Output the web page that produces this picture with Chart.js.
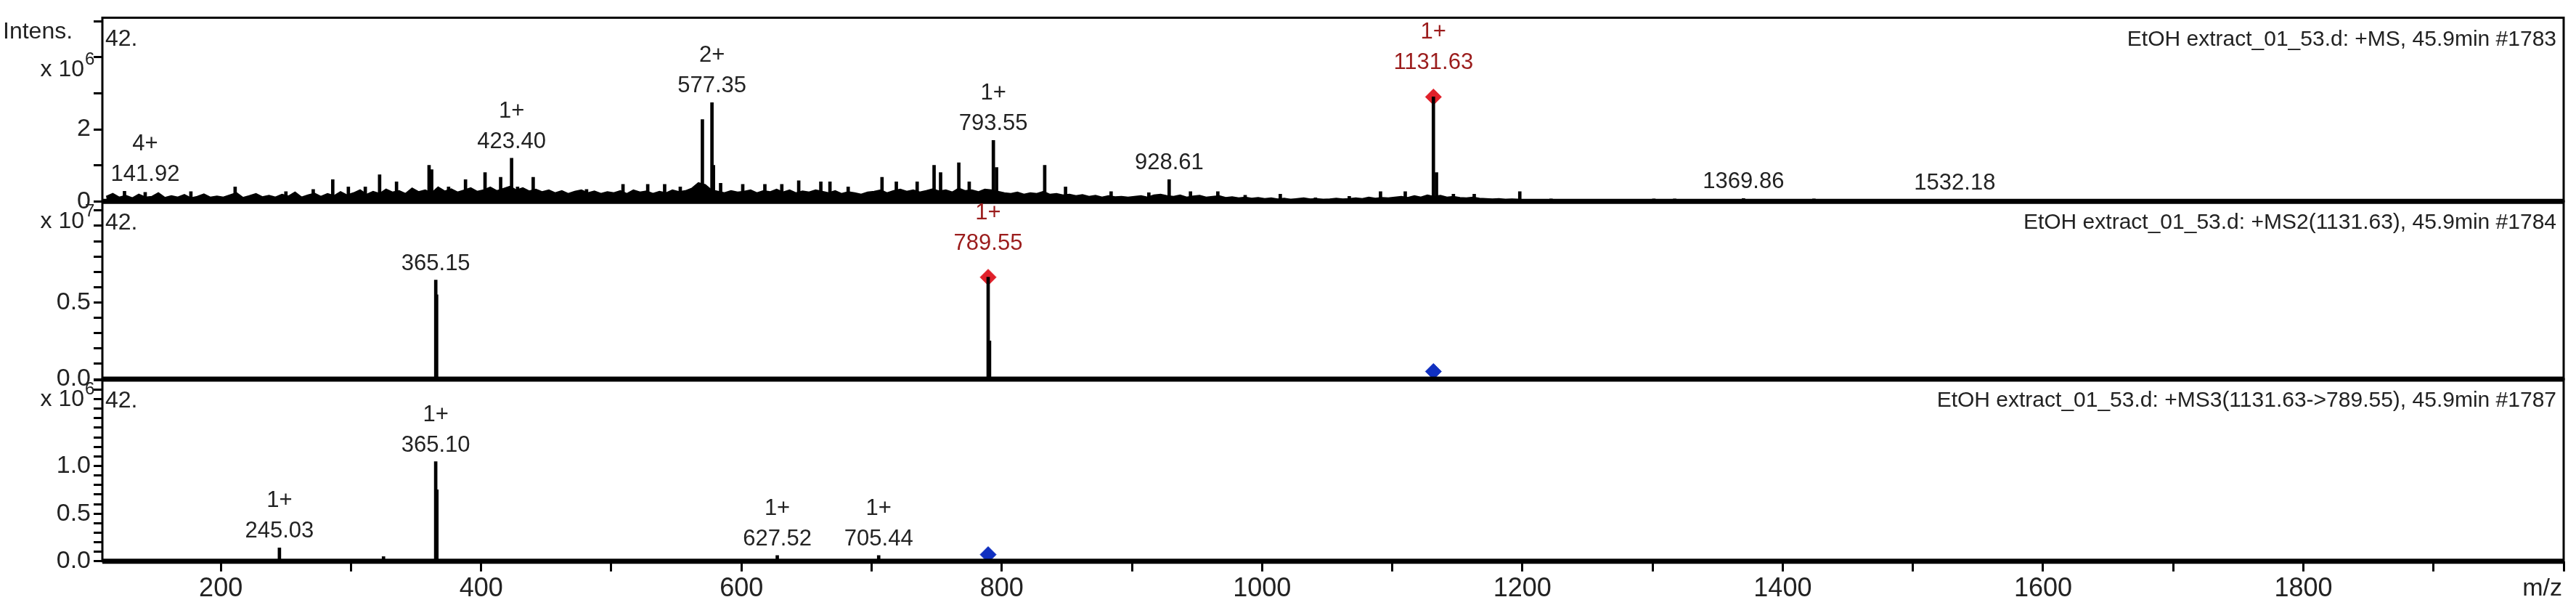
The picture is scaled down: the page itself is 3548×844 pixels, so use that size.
<!DOCTYPE html>
<html>
<head>
<meta charset="utf-8">
<script src="https://cdn.jsdelivr.net/npm/chart.js@4.4.1/dist/chart.umd.min.js"></script>
<style>
  html, body { margin: 0; padding: 0; background: #fff; }
  #wrap { position: relative; width: 3548px; height: 844px; }
</style>
</head>
<body>
<div id="wrap"><canvas id="msChart" width="3548" height="844"></canvas></div>
<script>
// ---- data (intensities in units of the panel exponent) ----
// panel 1: MS full scan, x 10^6
var ms1GrassStart = 112, ms1GrassStep = 5;
var ms1Grass = [
  0.12,0.2,0.1,0.15,0.08,0.18,0.1,0.12,0.22,0.09,0.14,0.1,0.17,0.08,0.12,0.19,0.1,0.13,
  0.1,0.16,0.22,0.09,0.14,0.2,0.11,0.15,0.1,0.18,0.13,0.24,0.1,0.16,0.21,0.12,0.2,0.14,0.25,0.16,
  0.22,0.3,0.18,0.26,0.2,0.32,0.24,0.28,0.2,0.35,0.25,0.3,0.22,0.38,0.27,0.33,0.24,0.3,0.36,0.26,
  0.3,0.38,0.28,0.34,0.4,0.3,0.36,0.27,0.32,0.25,0.3,0.22,0.28,0.2,0.26,0.3,0.22,0.27,0.2,0.25,
  0.22,0.28,0.2,0.3,0.24,0.27,0.2,0.26,0.22,0.3,0.25,0.28,0.35,0.5,0.45,0.3,0.26,0.22,0.28,0.24,
  0.26,0.3,0.22,0.28,0.25,0.32,0.24,0.3,0.22,0.27,0.24,0.3,0.26,0.22,0.28,0.2,0.25,0.22,0.18,0.24,
  0.26,0.3,0.22,0.28,0.32,0.26,0.3,0.24,0.28,0.33,0.27,0.3,0.24,0.35,0.28,0.3,0.25,0.32,0.3,0.26,
  0.22,0.2,0.24,0.18,0.22,0.2,0.26,0.18,0.2,0.16,0.18,0.14,0.17,0.12,0.15,0.1,0.14,0.11,0.12,0.1,
  0.12,0.14,0.1,0.16,0.18,0.14,0.12,0.16,0.1,0.13,0.15,0.1,0.12,0.14,0.09,0.11,0.08,0.1,0.07,0.09,
  0.06,0.08,0.05,0.07,0.04,0.06,0.08,0.05,0.06,0.04,0.05,0.07,0.05,0.06,0.08,0.06,0.1,0.07,0.09,0.08,
  0.1,0.12,0.09,0.14,0.1,0.16,0.12,0.15,0.1,0.12,0.09,0.08,0.1,0.07,0.06,0.05,0.06,0.04,0.05,0.04
];
var ms1PeakMz = [126,141.9,177,211,250,271,286,298,311,322,335,360,362,375,388,403,415,423.4,428,440,
  481,509,528,541,553,570,577.35,578.5,584,601,618,631,644,661,682,
  668,708,719,735,748,753,767,775,793.55,796,833,849,884,913,928.61,945,966,987,
  1014,1041,1067,1091,1110,1131.63,1134,1147,1163,1198,1222,1301,1317,1369.86,1424,1532.18];
var ms1PeakInt = [0.28,0.25,0.27,0.4,0.27,0.33,0.6,0.4,0.4,0.74,0.54,1.0,0.88,0.4,0.6,0.8,0.67,1.2,0.4,0.67,
  0.33,0.47,0.47,0.47,0.4,2.27,2.74,1.0,0.5,0.47,0.47,0.47,0.57,0.54,0.4,
  0.54,0.67,0.54,0.54,1.0,0.8,1.07,0.54,1.69,0.94,1.0,0.4,0.27,0.24,0.6,0.27,0.27,0.17,
  0.2,0.1,0.14,0.27,0.27,2.9,0.8,0.2,0.2,0.27,0.07,0.07,0.07,0.08,0.07,0.05];
// panel 2: MS2(1131.63), x 10^7
var ms2PeakMz = [365.15, 365.8, 789.55, 790.6];
var ms2PeakInt = [0.646, 0.55, 0.665, 0.25];
var ms2Precursor = [1131.63, 0.05];
// panel 3: MS3(1131.63->789.55), x 10^6
var ms3PeakMz = [245.03, 325, 365.10, 366.0, 627.52, 705.44];
var ms3PeakInt = [0.14, 0.05, 1.045, 0.75, 0.06, 0.06];
var ms3Precursor = [789.55, 0.07];

// annotations: [mz, intensity, charge, text, panel, red]
var peakLabels = [
  [141.92, 0.28, '4+', '141.92', 1, false],
  [423.40, 1.2, '1+', '423.40', 1, false],
  [577.35, 2.74, '2+', '577.35', 1, false],
  [793.55, 1.69, '1+', '793.55', 1, false],
  [928.61, 0.6, '', '928.61', 1, false],
  [1131.63, 2.9, '1+', '1131.63', 1, true],
  [1369.86, 0.08, '', '1369.86', 1, false],
  [1532.18, 0.05, '', '1532.18', 1, false],
  [365.15, 0.646, '', '365.15', 2, false],
  [789.55, 0.665, '1+', '789.55', 2, true],
  [245.03, 0.14, '1+', '245.03', 3, false],
  [365.10, 1.045, '1+', '365.10', 3, false],
  [627.52, 0.06, '1+', '627.52', 3, false],
  [705.44, 0.06, '1+', '705.44', 3, false]
];
var panelTitles = [
  'EtOH extract_01_53.d: +MS, 45.9min #1783',
  'EtOH extract_01_53.d: +MS2(1131.63), 45.9min #1784',
  'EtOH extract_01_53.d: +MS3(1131.63->789.55), 45.9min #1787'
];
var panelExp = ['6', '7', '6'];
var panelMax = [5.1, 1.16, 1.91];
var panelStep = [1, 0.1, 0.1];

var FONT = '"Liberation Sans Narrow", "Liberation Sans", Arial, sans-serif';

function xy(mz, it) {
  var out = [];
  for (var i = 0; i < mz.length; i++) out.push({ x: mz[i], y: it[i] });
  return out;
}
var grassPts = [];
for (var g = 0; g < ms1Grass.length; g++) grassPts.push({ x: ms1GrassStart + g * ms1GrassStep, y: ms1Grass[g] });

function stick(data, axis) {
  return { type: 'bar', data: data, yAxisID: axis, backgroundColor: '#000', barThickness: 4, grouped: false };
}
function diamond(pt, axis, color) {
  return { type: 'scatter', data: [{ x: pt[0], y: pt[1] }], yAxisID: axis, pointStyle: 'rectRot',
    pointRadius: 11, backgroundColor: color, borderColor: color };
}

function yScale(idx, weight) {
  return {
    type: 'linear', position: 'left', stack: 'ms', stackWeight: weight,
    min: 0, max: panelMax[idx],
    afterFit: function (s) { s.width = 141; },
    afterBuildTicks: function (s) {
      var t = [];
      for (var v = 0; v <= panelMax[idx] + 1e-9; v += panelStep[idx]) t.push({ value: Math.round(v * 100) / 100 });
      s.ticks = t;
    },
    border: { display: false },
    grid: { drawOnChartArea: false, color: '#000', tickLength: 12, lineWidth: 3 },
    ticks: {
      color: '#222', font: { family: FONT, size: 34 }, padding: 4, autoSkip: false,
      callback: function (v) {
        if (idx === 0) return (v === 0 || v === 2) ? String(v) : '';
        if (idx === 1) return (Math.abs(v) < 1e-6 || Math.abs(v - 0.5) < 1e-6) ? v.toFixed(1) : '';
        return (Math.abs(v) < 1e-6 || Math.abs(v - 0.5) < 1e-6 || Math.abs(v - 1) < 1e-6) ? v.toFixed(1) : '';
      }
    }
  };
}

var framePlugin = {
  id: 'framePlugin',
  afterDatasetsDraw: function (chart) {
    var ctx = chart.ctx, ca = chart.chartArea;
    var ids = ['y1', 'y2', 'y3'];
    ctx.save();
    ids.forEach(function (id, k) {
      var s = chart.scales[id];
      ctx.strokeStyle = '#000';
      ctx.lineWidth = 3;
      ctx.strokeRect(ca.left, s.top, ca.right - ca.left, s.bottom - s.top);
      ctx.lineWidth = 7;
      ctx.beginPath(); ctx.moveTo(ca.left, s.bottom); ctx.lineTo(ca.right, s.bottom); ctx.stroke();
      // title & "42."
      ctx.fillStyle = '#222';
      ctx.font = '30px ' + FONT;
      ctx.textBaseline = 'middle';
      ctx.textAlign = 'right';
      ctx.fillText(panelTitles[k], ca.right - 10, s.top + 30);
      ctx.textAlign = 'left';
      ctx.font = '32px ' + FONT;
      ctx.fillText('42.', ca.left + 4, s.top + 30);
      // exponent label
      var ey = s.top + (k === 0 ? 72 : 28);
      ctx.textAlign = 'right';
      ctx.font = '32px ' + FONT;
      ctx.fillText('x 10', 116, ey);
      ctx.textAlign = 'left';
      ctx.font = '24px ' + FONT;
      ctx.fillText(panelExp[k], 117, ey - 14);
    });
    ctx.font = '32px ' + FONT;
    ctx.textAlign = 'left';
    ctx.fillText('Intens.', 4, chart.scales.y1.top + 20);
    // axis unit
    ctx.textAlign = 'right';
    ctx.font = '34px ' + FONT;
    ctx.fillText('m/z', ca.right - 2, chart.scales.x.top + 38);
    // peak labels
    ctx.textAlign = 'center';
    ctx.textBaseline = 'alphabetic';
    ctx.font = '31px ' + FONT;
    peakLabels.forEach(function (p) {
      var x = chart.scales.x.getPixelForValue(p[0]);
      var y = chart.scales['y' + p[4]].getPixelForValue(p[1]) - (p[5] ? 38 : 14);
      ctx.fillStyle = p[5] ? '#9b1c1c' : '#222';
      ctx.fillText(p[3], x, y);
      if (p[2]) ctx.fillText(p[2], x, y - 42);
    });
    ctx.restore();
  }
};

var ctx = document.getElementById('msChart').getContext('2d');
new Chart(ctx, {
  data: {
    datasets: [
      { type: 'line', data: grassPts, yAxisID: 'y1', borderColor: '#000', borderWidth: 3,
        backgroundColor: '#000', fill: 'origin', pointRadius: 0, tension: 0 },
      stick(xy(ms1PeakMz, ms1PeakInt), 'y1'),
      diamond([1131.63, 2.9], 'y1', '#e0202a'),
      stick(xy(ms2PeakMz, ms2PeakInt), 'y2'),
      diamond([789.55, 0.665], 'y2', '#e0202a'),
      diamond(ms2Precursor, 'y2', '#1030c0'),
      stick(xy(ms3PeakMz, ms3PeakInt), 'y3'),
      diamond(ms3Precursor, 'y3', '#1030c0')
    ]
  },
  plugins: [framePlugin],
  options: {
    responsive: false,
    animation: false,
    devicePixelRatio: 1,
    layout: { padding: { top: 13, right: 17, left: 0, bottom: 8 } },
    plugins: { legend: { display: false }, tooltip: { enabled: false } },
    scales: {
      x: {
        type: 'linear', min: 109, max: 2000, offset: false,
        afterBuildTicks: function (s) {
          var t = [];
          for (var v = 200; v <= 2000; v += 100) t.push({ value: v });
          s.ticks = t;
        },
        border: { display: false },
        grid: { drawOnChartArea: false, offset: false, color: '#000', tickLength: 14, lineWidth: 3 },
        ticks: {
          color: '#222', font: { family: FONT, size: 36 }, autoSkip: false, maxRotation: 0,
          callback: function (v) { return (v % 200 === 0 && v < 2000) ? String(v) : ''; }
        }
      },
      // stacked axes are laid out bottom-up in definition order
      y3: yScale(2, 252),
      y2: yScale(1, 246),
      y1: yScale(0, 254)
    }
  }
});
</script>
</body>
</html>
